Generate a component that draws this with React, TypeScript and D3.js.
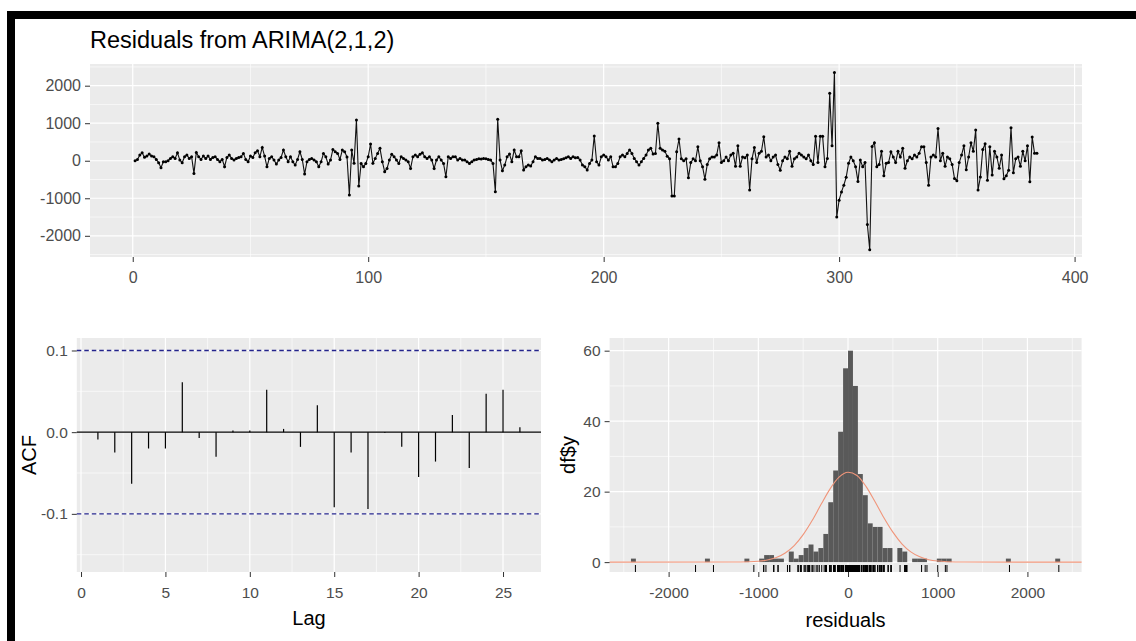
import React, { useEffect, useRef } from 'react';
import * as d3 from 'd3';

// residuals, t = 1..384
const residuals: number[] = [
  0, 36, 150, 210, 90, 125, 180, 125, 107, 36, -53, -186,
  -26, -26, 0, 63, 107, 63, 213, 18, -53, 107, 150, 63,
  107, -337, 223, 107, 36, 125, 63, 125, 36, 89, 107, 36,
  -26, 36, -160, 89, 150, 63, 18, 63, 89, 107, 196, 36,
  -26, 125, 89, 214, 267, 107, 356, 125, -160, 63, 107, 18,
  -88, 18, 89, 285, 107, -26, 107, -26, -115, 36, 240, 36,
  -355, -26, 36, 63, 18, -26, -160, -26, 196, 107, -88, 18,
  300, 240, 196, 36, 285, 240, 100, -915, 285, -70, 1085, -675,
  -71, -160, -71, 107, 445, -70, 63, 196, 330, -26, -293, -204,
  18, 170, 107, 18, -71, 107, 63, 18, -26, -204, 107, 152,
  107, 170, 214, 107, 63, 107, 18, -204, 18, 107, 18, -71,
  -426, 107, 63, 107, 107, 18, 63, 18, 18, -26, -71, -26,
  18, 36, 54, 45, 63, 54, 36, 18, -71, -826, 1103, 18,
  -266, -115, 107, 178, -26, 285, 107, 107, 267, -248, -160, -115,
  -142, -26, 107, 63, 63, 18, 36, 63, 18, -26, 18, 63,
  18, 36, 54, 81, 107, 63, 107, 81, 89, 18, -115, -160,
  -248, -71, 18, 658, -26, -115, 107, 152, 107, 18, 107, -160,
  -160, -71, 107, 152, 107, 196, 285, 196, 63, -26, -115, -26,
  63, 150, 285, 330, 179, 196, 1000, 330, 285, 250, 120, 50,
  -940, -940, 240, 580, 50, 0, 50, -450, -50, 50, 0, 370,
  0, -160, -490, -100, 50, 100, 100, 150, 480, -50, 0, 100,
  0, 150, 200, -150, 400, -150, 100, 80, 150, -780, 50, 350,
  -50, 200, 250, 640, 100, 150, 0, 100, 150, -100, -250, 0,
  100, 50, 250, -150, 50, 100, 200, 150, 100, 50, 150, 0,
  -100, 650, -50, 650, 650, -160, 60, 1800, 400, 2350, -1500, -1050,
  -830, -650, -440, -70, 100, 0, -160, -550, 20, -160, -50, -1700,
  -2370, 380, 480, -160, -100, 250, -400, -70, -50, 240, 100, -50,
  250, 100, 330, -200, 0, 100, 50, 150, 100, 200, 370, 370,
  -50, -650, 100, 150, 100, 860, 0, 200, -150, 100, 50, -100,
  -470, -530, -50, 150, 400, -240, 100, 480, 250, 820, -780, -430,
  300, 450, -520, 370, -380, 250, 100, -200, 150, -480, -400, -250,
  880, -320, 50, 100, -150, 250, 0, 400, -560, 630, 200, 200,
];

// ACF of the residuals
const acfLags = [1, 2, 3, 4, 5, 6, 7, 8, 9, 10, 11, 12, 13, 14, 15, 16, 17, 18, 19, 20, 21, 22, 23, 24, 25, 26];
const acfValues = [
  -0.009, -0.025, -0.063, -0.02, -0.02, 0.061, -0.007, -0.03, 0.002, 0.002, 0.052, 0.004, -0.018,
  0.033, -0.092, -0.025, -0.094, -0.001, -0.018, -0.055, -0.036, 0.021, -0.044, 0.047, 0.052, 0.006,
];
const acfCi = 0.1;

// histogram: bins of width 55 starting at -2420
const histBinStart = -2420;
const histBinWidth = 55;
const histCounts = [
  1, 0, 0, 0, 0, 0, 0, 0, 0, 0, 0, 0, 0, 0, 0, // -2420 .. -1650
  1, 0, 0, 0, 0, 0, 0, 0, // -1595 .. -1210
  1, 0, 0, 1, 2, 2, 1, 1, 0, 3, 1, 2, 4, 5, 3, 4, 8, 17, 26, 37, 55, // -1155 .. -55
  60, 50, 25, 19, 11, 10, 10, 4, 4, 0, 4, 3, 0, 1, 1, 1, 0, 0, 1, 1, 1, // 0 .. 1100
  0, 0, 0, 0, 0, 0, 0, 0, 0, 0, 0, 1, 0, 0, 0, 0, 0, 0, 0, 0, 0, 1, // 1155 .. 2310
];

// fitted normal curve
const normX = [-2658, -1300, -1100, -1000, -900, -800, -700, -600, -500, -400, -300, -200, -100, 0,
  100, 200, 300, 400, 500, 600, 700, 800, 900, 1000, 1100, 1300, 2604];
const normY = [0, 0.02, 0.1, 0.25, 0.6, 1.3, 2.6, 4.7, 7.8, 11.8, 16.4, 20.8, 24.1, 25.5,
  24.6, 21.5, 17.2, 12.6, 8.5, 5.2, 2.9, 1.5, 0.7, 0.3, 0.12, 0.02, 0];

const tsXTicks = [0, 100, 200, 300, 400];
const tsXMinor = [50, 150, 250, 350];
const tsYTicks = [-2000, -1000, 0, 1000, 2000];
const tsYMinor = [-2500, -1500, -500, 500, 1500, 2500];
const acfXTicks = [0, 5, 10, 15, 20, 25];
const acfXMinor = [2.5, 7.5, 12.5, 17.5, 22.5];
const acfYTicks = [-0.1, 0, 0.1];
const acfYMinor = [-0.15, -0.05, 0.05];
const histXTicks = [-2000, -1000, 0, 1000, 2000];
const histXMinor = [-2500, -1500, -500, 500, 1500, 2500];
const histYTicks = [0, 20, 40, 60];
const histYMinor = [10, 30, 50];

const W = 1136;
const H = 641;
const FONT = '"Liberation Sans", Arial, Helvetica, sans-serif';

// plain hyphen for negatives, like R does
const fmtInt = d => String(d);
const fmt1 = d => d.toFixed(1);

function panel(g, x, y, xMajor, xMinor, yMajor, yMinor) {
  const [x0, x1] = x.range();
  const [y0, y1] = y.range();
  g.append('rect')
    .attr('x', x0).attr('y', y1)
    .attr('width', x1 - x0).attr('height', y0 - y1)
    .attr('fill', '#ebebeb');
  const lines = (vals, vertical, w) => {
    g.append('g').selectAll('line')
      .data(vals)
      .enter()
      .append('line')
      .attr('x1', d => (vertical ? x(d) : x0))
      .attr('x2', d => (vertical ? x(d) : x1))
      .attr('y1', d => (vertical ? y0 : y(d)))
      .attr('y2', d => (vertical ? y1 : y(d)))
      .attr('stroke', '#ffffff')
      .attr('stroke-width', w);
  };
  lines(xMinor, true, 0.6);
  lines(yMinor, false, 0.6);
  lines(xMajor, true, 1.2);
  lines(yMajor, false, 1.2);
}

function axes(g, x, y, xTicks, yTicks, xFmt, yFmt, size) {
  const style = sel => {
    sel.attr('font-family', FONT).attr('font-size', size);
    sel.select('.domain').remove();
    sel.selectAll('.tick line').attr('stroke', '#333333').attr('stroke-width', 1);
    sel.selectAll('.tick text').attr('fill', '#4d4d4d');
  };
  g.append('g')
    .attr('transform', `translate(0,${y.range()[0]})`)
    .call(d3.axisBottom(x).tickValues(xTicks).tickSize(5).tickPadding(10).tickFormat(xFmt))
    .call(style);
  g.append('g')
    .attr('transform', `translate(${x.range()[0]},0)`)
    .call(d3.axisLeft(y).tickValues(yTicks).tickSize(5).tickPadding(4).tickFormat(yFmt))
    .call(style);
}

export default function App() {
  const svgRef = useRef<SVGSVGElement>(null);

  useEffect(() => {
    const svg = d3.select(svgRef.current);
    svg.selectAll('*').remove();

    svg.append('rect').attr('width', W).attr('height', H).attr('fill', '#ffffff');

    // ---- top: residual series
    const xTs = d3.scaleLinear().domain([-18.15, 403.15]).range([90, 1082]);
    const yTs = d3.scaleLinear().domain([-2565, 2578]).range([257, 64]);
    const gTs = svg.append('g');
    panel(gTs, xTs, yTs, tsXTicks, tsXMinor, tsYTicks, tsYMinor);

    const line = d3.line<number>()
      .x((d, i) => xTs(i + 1))
      .y(d => yTs(d));
    gTs.append('path')
      .datum(residuals)
      .attr('d', line)
      .attr('fill', 'none')
      .attr('stroke', '#111111')
      .attr('stroke-width', 1.1);
    gTs.append('g').selectAll('circle')
      .data(residuals)
      .enter()
      .append('circle')
      .attr('cx', (d, i) => xTs(i + 1))
      .attr('cy', d => yTs(d))
      .attr('r', 1.5)
      .attr('fill', '#000000');
    axes(gTs, xTs, yTs, tsXTicks, tsYTicks, fmtInt, fmtInt, 16);

    svg.append('text')
      .attr('x', 90).attr('y', 48)
      .attr('font-family', FONT).attr('font-size', 23.5)
      .attr('fill', '#000000')
      .text('Residuals from ARIMA(2,1,2)');

    // ---- bottom left: ACF
    const xAcf = d3.scaleLinear().domain([-0.25, 27.25]).range([76.8, 541]);
    const yAcf = d3.scaleLinear().domain([-0.1712, 0.1153]).range([572, 338]);
    const gAcf = svg.append('g');
    panel(gAcf, xAcf, yAcf, acfXTicks, acfXMinor, acfYTicks, acfYMinor);

    gAcf.append('line')
      .attr('x1', 76.8).attr('x2', 541)
      .attr('y1', yAcf(0)).attr('y2', yAcf(0))
      .attr('stroke', '#000000').attr('stroke-width', 1.3);
    gAcf.append('g').selectAll('line')
      .data(acfValues)
      .enter()
      .append('line')
      .attr('x1', (d, i) => xAcf(acfLags[i]))
      .attr('x2', (d, i) => xAcf(acfLags[i]))
      .attr('y1', yAcf(0))
      .attr('y2', d => yAcf(d))
      .attr('stroke', '#000000')
      .attr('stroke-width', 1.2);
    gAcf.append('g').selectAll('line')
      .data([-acfCi, acfCi])
      .enter()
      .append('line')
      .attr('x1', 76.8).attr('x2', 541)
      .attr('y1', d => yAcf(d)).attr('y2', d => yAcf(d))
      .attr('stroke', '#24248c')
      .attr('stroke-width', 1.3)
      .attr('stroke-dasharray', '4.5,3');
    axes(gAcf, xAcf, yAcf, acfXTicks, acfYTicks, fmtInt, fmt1, 15.5);

    gAcf.append('text')
      .attr('x', 309).attr('y', 625)
      .attr('text-anchor', 'middle')
      .attr('font-family', FONT).attr('font-size', 20)
      .text('Lag');
    gAcf.append('text')
      .attr('transform', 'translate(35.5,455) rotate(-90)')
      .attr('text-anchor', 'middle')
      .attr('font-family', FONT).attr('font-size', 20)
      .text('ACF');

    // ---- bottom right: histogram
    const xH = d3.scaleLinear().domain([-2658, 2604]).range([609.6, 1081.6]);
    const yH = d3.scaleLinear().domain([-2.8, 63.6]).range([572, 338]);
    const gH = svg.append('g');
    panel(gH, xH, yH, histXTicks, histXMinor, histYTicks, histYMinor);

    gH.append('g').selectAll('rect')
      .data(histCounts.map((c, i) => ({ x0: histBinStart + i * histBinWidth, c })).filter(d => d.c > 0))
      .enter()
      .append('rect')
      .attr('x', d => xH(d.x0))
      .attr('width', d => xH(d.x0 + histBinWidth) - xH(d.x0))
      .attr('y', d => yH(d.c))
      .attr('height', d => yH(0) - yH(d.c))
      .attr('fill', '#595959');

    const norm = d3.line<number>()
      .x((d, i) => xH(normX[i]))
      .y(d => yH(d))
      .curve(d3.curveMonotoneX);
    gH.append('path')
      .datum(normY)
      .attr('d', norm)
      .attr('fill', 'none')
      .attr('stroke', '#f0957a')
      .attr('stroke-width', 1.1);

    gH.append('g').selectAll('line')
      .data(residuals)
      .enter()
      .append('line')
      .attr('x1', d => xH(d)).attr('x2', d => xH(d))
      .attr('y1', 572).attr('y2', 565)
      .attr('stroke', '#000000')
      .attr('stroke-width', 1);
    axes(gH, xH, yH, histXTicks, histYTicks, fmtInt, fmtInt, 15.5);

    gH.append('text')
      .attr('x', 845.6).attr('y', 627)
      .attr('text-anchor', 'middle')
      .attr('font-family', FONT).attr('font-size', 20)
      .text('residuals');
    gH.append('text')
      .attr('transform', 'translate(575,455) rotate(-90)')
      .attr('text-anchor', 'middle')
      .attr('font-family', FONT).attr('font-size', 20)
      .text('df$y');

    // black frame (top and left edges of the screenshot)
    svg.append('rect').attr('x', 7).attr('y', 11).attr('width', W - 7).attr('height', 8).attr('fill', '#000000');
    svg.append('rect').attr('x', 7).attr('y', 11).attr('width', 8).attr('height', H - 11).attr('fill', '#000000');
  }, []);

  return (
    <svg
      ref={svgRef}
      width={W}
      height={H}
      style={{ position: 'absolute', left: 0, top: 0, display: 'block' }}
    />
  );
}
